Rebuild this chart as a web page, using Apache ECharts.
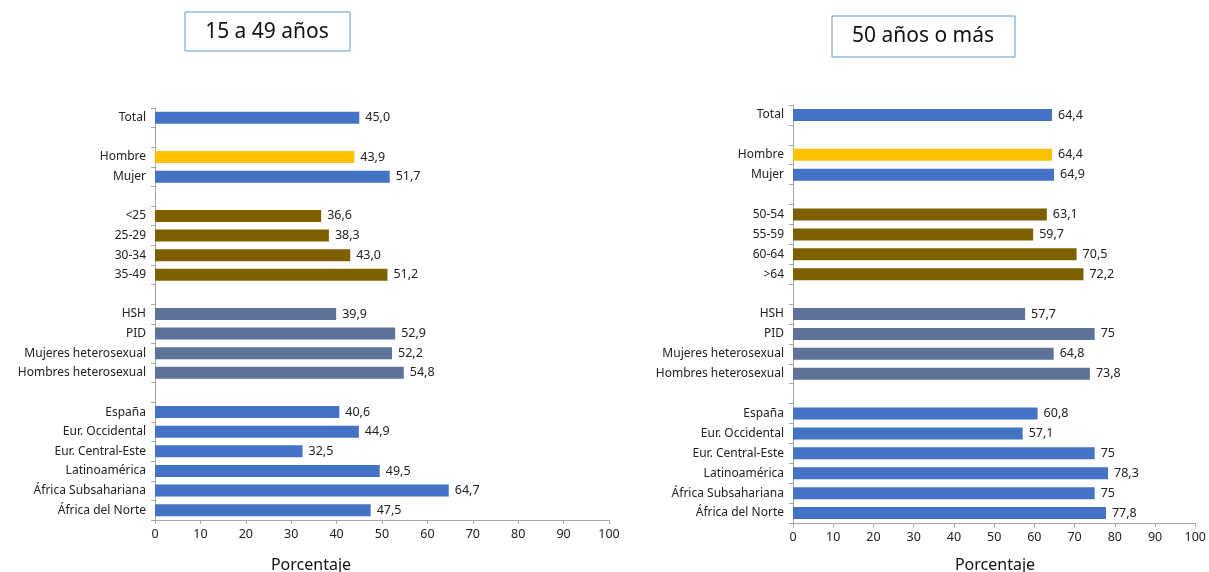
<!DOCTYPE html>
<html>
<head>
<meta charset="utf-8">
<script src="https://cdn.jsdelivr.net/npm/echarts@6/dist/echarts.min.js"></script>
<style>
  html, body { margin: 0; padding: 0; background: #fff; }
  #chart { width: 1209px; height: 572px; }
</style>
</head>
<body>
<div id="chart"></div>
<script>
// categories, empty strings are the gaps between groups
var categories = ['Total', '', 'Hombre', 'Mujer', '', '<25', '25-29', '30-34', '35-49', '',
	'HSH', 'PID', 'Mujeres heterosexual', 'Hombres heterosexual', '',
	'España', 'Eur. Occidental', 'Eur. Central-Este', 'Latinoamérica', 'África Subsahariana', 'África del Norte'];
var categories2 = ['Total', '', 'Hombre', 'Mujer', '', '50-54', '55-59', '60-64', '>64', '',
	'HSH', 'PID', 'Mujeres heterosexual', 'Hombres heterosexual', '',
	'España', 'Eur. Occidental', 'Eur. Central-Este', 'Latinoamérica', 'África Subsahariana', 'África del Norte'];

var values1 = [45.0, null, 43.9, 51.7, null, 36.6, 38.3, 43.0, 51.2, null,
	39.9, 52.9, 52.2, 54.8, null, 40.6, 44.9, 32.5, 49.5, 64.7, 47.5];
var values2 = [64.4, null, 64.4, 64.9, null, 63.1, 59.7, 70.5, 72.2, null,
	57.7, 75, 64.8, 73.8, null, 60.8, 57.1, 75, 78.3, 75, 77.8];

// group of each category: t=total, s=sexo, e=edad, m=transmision
var groups = ['t', '', 's', 't', '', 'e', 'e', 'e', 'e', '',
	'm', 'm', 'm', 'm', '', 't', 't', 't', 't', 't', 't'];

var xTicks = [0, 10, 20, 30, 40, 50, 60, 70, 80, 90, 100];

var colors = { t: '#4472c4', s: '#ffc000', e: '#7f6000', m: '#5e7399' };
var font = 'Noto Sans';

function makeData(vals) {
	return vals.map(function (v, i) {
		if (v === null) return '-';
		return { value: v, itemStyle: { color: colors[groups[i]] } };
	});
}

var myChart = echarts.init(document.getElementById('chart'));

function xAxisOf(idx) {
	return {
		gridIndex: idx,
		type: 'value',
		min: xTicks[0],
		max: xTicks[xTicks.length - 1],
		interval: 10,
		splitLine: { show: false },
		axisLine: { show: true, lineStyle: { color: '#a6a6a6', width: 1 } },
		axisTick: { show: true, length: 4, lineStyle: { color: '#a6a6a6' } },
		axisLabel: { fontFamily: font, fontSize: 12.5, color: '#222', margin: 8 }
	};
}

function yAxisOf(idx, cats) {
	return {
		gridIndex: idx,
		type: 'category',
		inverse: true,
		data: cats,
		axisLine: { show: true, lineStyle: { color: '#a6a6a6', width: 1 } },
		axisTick: { show: true, length: 4, lineStyle: { color: '#a6a6a6' } },
		axisLabel: { fontFamily: font, fontSize: 12, color: '#222', margin: 9, interval: 0 }
	};
}

var option = {
	animation: false,
	grid: [
		{ left: 155, width: 454, top: 108, bottom: 52 },
		{ left: 793, width: 403, top: 105, bottom: 49 }
	],
	xAxis: [xAxisOf(0), xAxisOf(1)],
	yAxis: [yAxisOf(0, categories), yAxisOf(1, categories2)],
	graphic: [
		{ type: 'rect', shape: { x: 185, y: 12, width: 165, height: 39 },
			style: { fill: '#fff', stroke: '#5b9bd5', lineWidth: 1 } },
		{ type: 'text', x: 267, y: 32,
			style: { text: '15 a 49 años', font: '21px "Noto Sans"', fill: '#111', align: 'center', verticalAlign: 'middle' } },
		{ type: 'rect', shape: { x: 832, y: 16, width: 183, height: 41 },
			style: { fill: '#fff', stroke: '#5b9bd5', lineWidth: 1 } },
		{ type: 'text', x: 923, y: 36,
			style: { text: '50 años o más', font: '21px "Noto Sans"', fill: '#111', align: 'center', verticalAlign: 'middle' } },
		{ type: 'text', x: 311, y: 565,
			style: { text: 'Porcentaje', font: '16px "Noto Sans"', fill: '#111', align: 'center', verticalAlign: 'middle' } },
		{ type: 'text', x: 995, y: 565,
			style: { text: 'Porcentaje', font: '16px "Noto Sans"', fill: '#111', align: 'center', verticalAlign: 'middle' } }
	],
	series: [
		{
			type: 'bar',
			xAxisIndex: 0,
			yAxisIndex: 0,
			barWidth: 12,
			data: makeData(values1),
			label: {
				show: true,
				position: 'right',
				distance: 6,
				fontFamily: font,
				fontSize: 12.5,
				color: '#222',
				formatter: function (p) { return p.value.toFixed(1).replace('.', ','); }
			}
		},
		{
			type: 'bar',
			xAxisIndex: 1,
			yAxisIndex: 1,
			barWidth: 12,
			data: makeData(values2),
			label: {
				show: true,
				position: 'right',
				distance: 6,
				fontFamily: font,
				fontSize: 12.5,
				color: '#222',
				formatter: function (p) { return String(p.value).replace('.', ','); }
			}
		}
	]
};

myChart.setOption(option);
</script>
</body>
</html>
